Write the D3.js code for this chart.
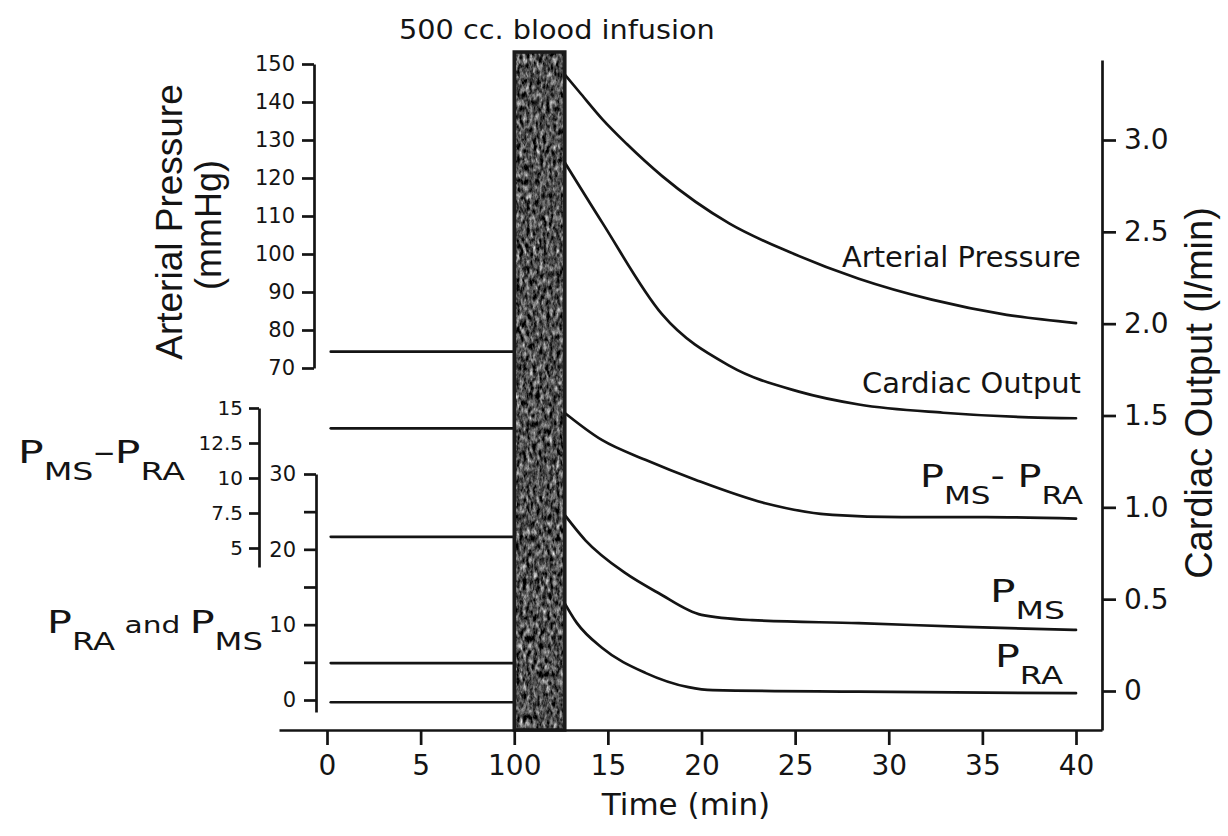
<!DOCTYPE html>
<html>
<head>
<meta charset="utf-8">
<script src="https://cdn.jsdelivr.net/npm/d3@7"></script>
<style>
  body { margin: 0; background: #fff; }
  svg { display: block; }
  text { white-space: pre; }
</style>
</head>
<body>
<div id="chart"></div>
<script>
// time axis (min). the original figure prints "100" under the 10 min tick
var timeTicks = [0, 5, 10, 15, 20, 25, 30, 35, 40];
var timeLabels = ["0", "5", "100", "15", "20", "25", "30", "35", "40"];
var infusion = [10, 12.7];

var apTicks = [70, 80, 90, 100, 110, 120, 130, 140, 150];
var coTicks = [0, 0.5, 1.0, 1.5, 2.0, 2.5, 3.0];
var diffTicks = [5, 7.5, 10, 12.5, 15];
var pTicks = [0, 5, 10, 15, 20, 25, 30];
var pLabelled = [0, 10, 20, 30];

// control level before the infusion
var preTime = [0.2, 10];
var apPre = 74.3, coPre = 1.43, diffPre = 5.8, pmsPre = 4.9, praPre = -0.3;

// after the infusion
var apTime = [12.5, 13.5, 14.7, 16.0, 17.9, 21.5, 24.7, 28.4, 32.3, 36.3, 40];
var apValue = [148.4, 142.5, 135.5, 129, 120.5, 108, 100.5, 93.5, 88, 84, 81.8];
var coTime = [12.5, 14.7, 17.9, 21.5, 25.2, 28.4, 32.9, 37.5, 40];
var coValue = [2.91, 2.55, 2.05, 1.77, 1.63, 1.56, 1.515, 1.49, 1.485];
var diffTime = [12.5, 14.7, 17.0, 19.7, 23.4, 27.0, 30.7, 35.2, 40];
var diffValue = [14.86, 12.7, 11.3, 9.86, 8.2, 7.36, 7.2, 7.2, 7.1];
var pmsTime = [12.5, 13.8, 15.9, 17.7, 20.0, 22.7, 28.4, 34.1, 40];
var pmsValue = [25.2, 21.2, 16.9, 14.2, 11.3, 10.6, 10.2, 9.7, 9.3];
var praTime = [12.5, 13.35, 14.7, 17.0, 19.3, 20.6, 28.4, 40];
var praValue = [13.7, 10.2, 6.9, 3.6, 1.7, 1.3, 1.1, 0.9];

var width = 1228, height = 836;
var ink = "#141414";

var svg = d3.select("#chart").append("svg")
  .attr("width", width)
  .attr("height", height);

// scales
var x = d3.scaleLinear().domain([0, 40]).range([327, 1076]);
var yAP = d3.scaleLinear().domain([70, 150]).range([368, 64]);
var yCO = d3.scaleLinear().domain([0, 3]).range([691, 140]);
var yDiff = d3.scaleLinear().domain([5, 15]).range([548, 408]);
var yP = d3.scaleLinear().domain([0, 30]).range([700, 474]);

var xAxisTop = 730;

// mottled texture for the infusion bar
var defs = svg.append("defs");
var f = defs.append("filter").attr("id", "grain")
  .attr("x", 0).attr("y", 0).attr("width", 1).attr("height", 1)
  .attr("color-interpolation-filters", "sRGB");
f.append("feTurbulence").attr("type", "fractalNoise")
  .attr("baseFrequency", "0.3 0.14").attr("numOctaves", 3).attr("seed", 4)
  .attr("result", "noise");
f.append("feColorMatrix").attr("in", "noise").attr("type", "matrix")
  .attr("values", "0.33 0.33 0.33 0 0  0.33 0.33 0.33 0 0  0.33 0.33 0.33 0 0  0 0 0 0 1")
  .attr("result", "gray");
var ct = f.append("feComponentTransfer").attr("in", "gray").attr("result", "tone");
["feFuncR", "feFuncG", "feFuncB"].forEach(function(n) {
  ct.append(n).attr("type", "linear").attr("slope", 2.2).attr("intercept", -0.78);
});
f.append("feComposite").attr("in", "tone").attr("in2", "SourceGraphic").attr("operator", "in");

// lines
function drawSeries(times, values, yScale) {
  var pts = times.map(function(t, i) { return [t, values[i]]; });
  svg.append("path")
    .datum(pts)
    .attr("fill", "none")
    .attr("stroke", ink)
    .attr("stroke-width", 2.7)
    .attr("stroke-linecap", "round")
    .attr("d", d3.line()
      .x(function(d) { return x(d[0]); })
      .y(function(d) { return yScale(d[1]); })
      .curve(d3.curveMonotoneX));
}
function drawPre(value, yScale) {
  drawSeries(preTime, preTime.map(function() { return value; }), yScale);
}

drawPre(apPre, yAP);
drawPre(coPre, yCO);
drawPre(diffPre, yDiff);
drawPre(pmsPre, yP);
drawPre(praPre, yP);

drawSeries(apTime, apValue, yAP);
drawSeries(coTime, coValue, yCO);
drawSeries(diffTime, diffValue, yDiff);
drawSeries(pmsTime, pmsValue, yP);
drawSeries(praTime, praValue, yP);

// infusion bar
svg.append("rect")
  .attr("x", x(infusion[0]))
  .attr("y", 52)
  .attr("width", x(infusion[1]) - x(infusion[0]))
  .attr("height", xAxisTop - 52)
  .attr("fill", "#000")
  .attr("filter", "url(#grain)");
svg.append("rect")
  .attr("x", x(infusion[0]))
  .attr("y", 52)
  .attr("width", x(infusion[1]) - x(infusion[0]))
  .attr("height", xAxisTop - 52)
  .attr("fill", "none")
  .attr("stroke", "#1a1a1a")
  .attr("stroke-width", 3.5);

// axes
function styleAxis(g, size) {
  g.attr("font-family", "DejaVu Sans").attr("font-size", size);
  g.select(".domain").attr("stroke", ink).attr("stroke-width", 2.7);
  g.selectAll(".tick line").attr("stroke", ink).attr("stroke-width", 2.7);
  g.selectAll(".tick text").attr("fill", ink);
}

var xAxisScale = x.copy().domain([x.invert(279), x.invert(1102)]).range([279, 1102]);
svg.append("g")
  .attr("transform", "translate(0," + xAxisTop + ")")
  .call(d3.axisBottom(xAxisScale)
    .tickValues(timeTicks)
    .tickFormat(function(d, i) { return timeLabels[i]; })
    .tickSize(15).tickSizeOuter(0).tickPadding(10))
  .call(styleAxis, 28);

svg.append("g")
  .attr("transform", "translate(314,0)")
  .call(d3.axisLeft(yAP).tickValues(apTicks)
    .tickFormat(function(d) { return String(d); })
    .tickSize(12).tickSizeOuter(0).tickPadding(7))
  .call(styleAxis, 21);

var yDiffAxis = yDiff.copy().domain([yDiff.invert(567), 15]).range([567, 408]);
svg.append("g")
  .attr("transform", "translate(259,0)")
  .call(d3.axisLeft(yDiffAxis).tickValues(diffTicks)
    .tickFormat(function(d) { return String(d); })
    .tickSize(10).tickSizeOuter(0).tickPadding(6))
  .call(styleAxis, 20);

var yPAxis = yP.copy().domain([yP.invert(712), 30]).range([712, 474]);
svg.append("g")
  .attr("transform", "translate(316,0)")
  .call(d3.axisLeft(yPAxis).tickValues(pTicks)
    .tickFormat(function(d) { return pLabelled.indexOf(d) >= 0 ? String(d) : ""; })
    .tickSize(12).tickSizeOuter(0).tickPadding(8))
  .call(styleAxis, 21);

var yCOAxis = yCO.copy().domain([yCO.invert(xAxisTop), yCO.invert(60)]).range([xAxisTop, 60]);
svg.append("g")
  .attr("transform", "translate(1102,0)")
  .call(d3.axisRight(yCOAxis).tickValues(coTicks)
    .tickFormat(function(d) { return d === 0 ? "0" : d3.format(".1f")(d); })
    .tickSize(14).tickSizeOuter(0).tickPadding(8))
  .call(styleAxis, 28);

// text helpers: build the label, then stretch it to the measured width
function label(x0, y0, parts, size, targetWidth, anchor) {
  var t = svg.append("text")
    .attr("font-family", "DejaVu Sans")
    .attr("font-size", size)
    .attr("fill", ink);
  var shift = 0;
  parts.forEach(function(p) {
    var s = p.sub ? 17 : 0;
    t.append("tspan")
      .attr("dy", s - shift)
      .attr("font-size", p.size || size)
      .text(p.t);
    shift = s;
  });
  var w = t.node().getBBox().width;
  var k = targetWidth ? targetWidth / w : 1;
  var left = anchor === "end" ? x0 - w * k : x0;
  t.attr("transform", "translate(" + left + "," + y0 + ") scale(" + k + ",1)");
  return t;
}

label(399, 39, [{t: "500 cc. blood infusion"}], 26, 316);

label(1081, 267, [{t: "Arterial Pressure"}], 29, 239, "end");
label(1081, 393, [{t: "Cardiac Output"}], 29, 219, "end");

label(1083, 487, [{t: "P"}, {t: "MS", sub: true, size: 25}, {t: "- "}, {t: "P"}, {t: "RA", sub: true, size: 25}], 32, 163, "end");
label(1065, 602, [{t: "P"}, {t: "MS", sub: true, size: 25}], 32, 75, "end");
label(1063, 667, [{t: "P"}, {t: "RA", sub: true, size: 25}], 32, 68, "end");

label(18, 463, [{t: "P"}, {t: "MS", sub: true, size: 25}, {t: "\u2013"}, {t: "P"}, {t: "RA", sub: true, size: 25}], 32, 167);
label(47, 633, [{t: "P"}, {t: "RA", sub: true, size: 25}, {t: " and ", size: 23}, {t: "P"}, {t: "MS", sub: true, size: 25}], 32, 216);

svg.append("text")
  .attr("x", 686).attr("y", 815)
  .attr("text-anchor", "middle")
  .attr("font-family", "DejaVu Sans")
  .attr("font-size", 31)
  .attr("fill", ink)
  .text("Time (min)");

// rotated axis titles
function vtitle(cx, cy, txt, size) {
  svg.append("text")
    .attr("transform", "translate(" + cx + "," + cy + ") rotate(-90)")
    .attr("text-anchor", "middle")
    .attr("font-family", "Liberation Sans")
    .attr("font-size", size)
    .attr("fill", ink)
    .text(txt);
}
vtitle(182, 222, "Arterial Pressure", 37);
vtitle(221, 225, "(mmHg)", 36);
vtitle(1212, 393, "Cardiac Output (l/min)", 38);
</script>
</body>
</html>
